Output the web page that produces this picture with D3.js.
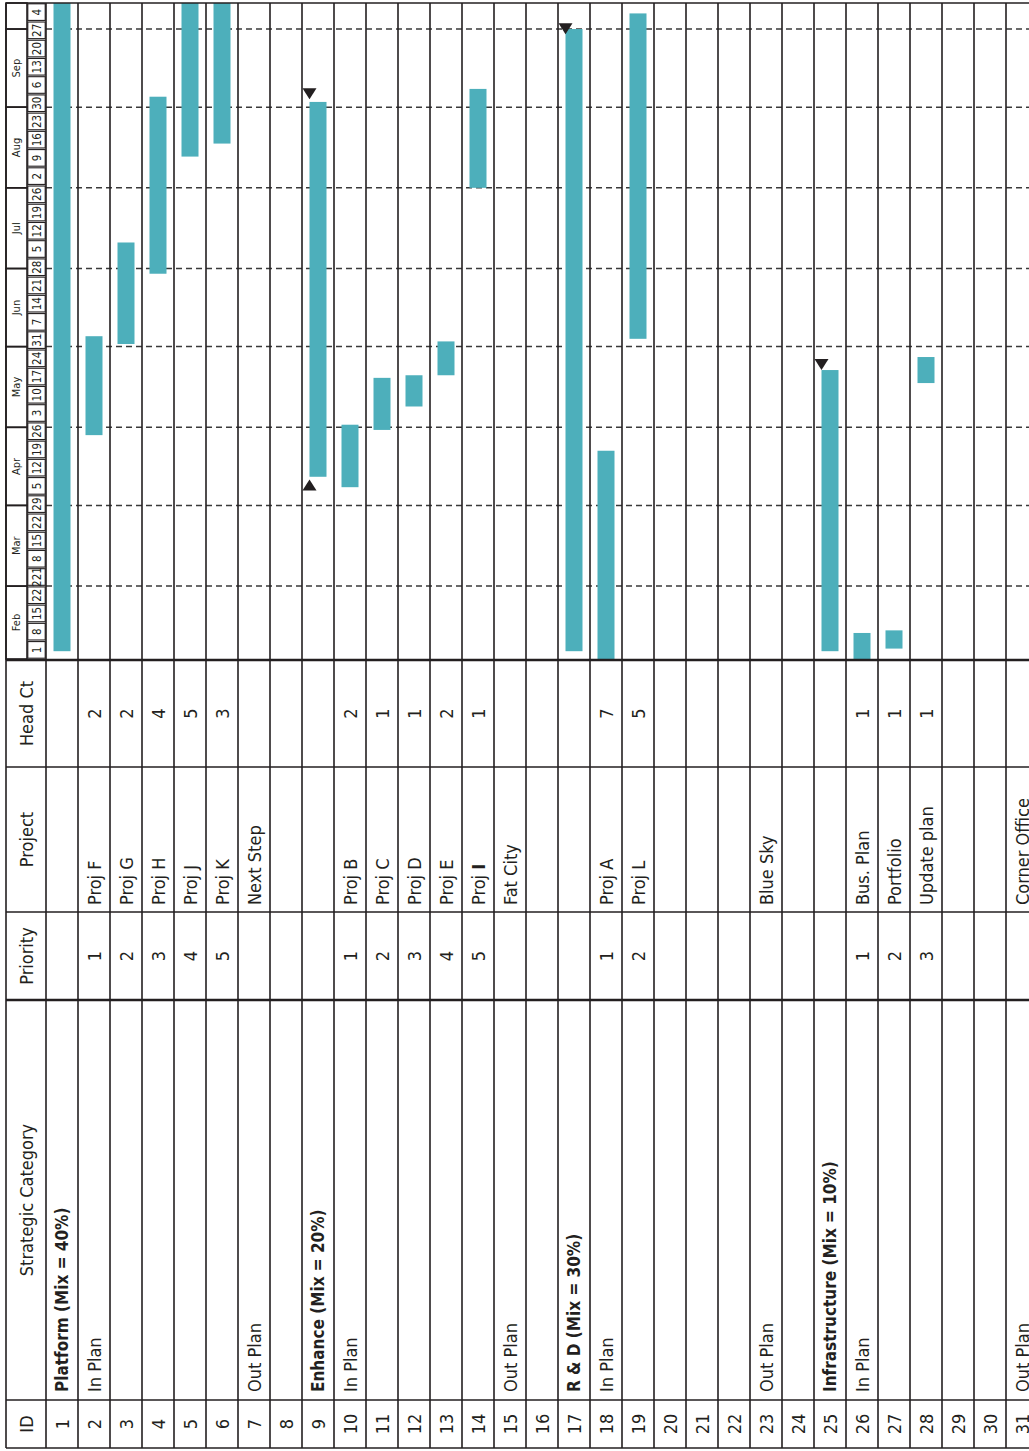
<!DOCTYPE html>
<html lang="en">
<head>
<meta charset="UTF-8">
<title>Strategic Project Plan</title>
<script src="https://cdn.jsdelivr.net/npm/d3@7"></script>
<style>
  body { margin: 0; background: #fff; }
  svg { display: block; }
  text {
    font-family: "Liberation Sans Narrow", "DejaVu Sans Condensed", "Arial Narrow", sans-serif;
    fill: #231f20;
  }
  .grid { stroke: #231f20; stroke-width: 1.6; }
  .thick { stroke-width: 2.6; }
  .month-line { stroke: #3a3a3a; stroke-width: 1.5; stroke-dasharray: 6 4; }
  .bar { fill: #4dafbb; }
  .milestone { fill: #231f20; }
</style>
</head>
<body>
<script>
// ---- values ----
const ids = [1, 2, 3, 4, 5, 6, 7, 8, 9, 10, 11, 12, 13, 14, 15, 16,
             17, 18, 19, 20, 21, 22, 23, 24, 25, 26, 27, 28, 29, 30, 31];
const headers = ["ID", "Strategic Category", "Priority", "Project", "Head Ct"];

const categoryRows = [1, 2, 7, 9, 10, 15, 17, 18, 23, 25, 26, 31];
const categoryNames = ["Platform (Mix = 40%)", "In Plan", "Out Plan",
                       "Enhance (Mix = 20%)", "In Plan", "Out Plan",
                       "R & D (Mix = 30%)", "In Plan", "Out Plan",
                       "Infrastructure (Mix = 10%)", "In Plan", "Out Plan"];
const groupRows = [1, 9, 17, 25];

const projectRows = [2, 3, 4, 5, 6, 7, 10, 11, 12, 13, 14, 15, 18, 19, 23, 26, 27, 28, 31];
const projectNames = ["Proj F", "Proj G", "Proj H", "Proj J", "Proj K", "Next Step",
                      "Proj B", "Proj C", "Proj D", "Proj E", "Proj I", "Fat City",
                      "Proj A", "Proj L", "Blue Sky", "Bus. Plan", "Portfolio",
                      "Update plan", "Corner Office"];

const rankedRows = [2, 3, 4, 5, 6, 10, 11, 12, 13, 14, 18, 19, 26, 27, 28];
const priorities = [1, 2, 3, 4, 5, 1, 2, 3, 4, 5, 1, 2, 1, 2, 3];
const headCounts = [2, 2, 4, 5, 3, 2, 1, 1, 2, 1, 7, 5, 1, 1, 1];

const barRows = [1, 2, 3, 4, 5, 6, 9, 10, 11, 12, 13, 14, 17, 18, 19, 25, 26, 27, 28];
const barStarts = ["2003-02-04", "2003-04-28", "2003-06-02", "2003-06-29", "2003-08-13",
                   "2003-08-18", "2003-04-12", "2003-04-08", "2003-04-30", "2003-05-09",
                   "2003-05-21", "2003-08-01", "2003-02-04", "2003-01-30", "2003-06-04",
                   "2003-02-04", "2003-01-30", "2003-02-05", "2003-05-18"];
const barEnds = ["2003-10-20", "2003-06-05", "2003-07-11", "2003-09-05", "2003-10-20",
                 "2003-10-20", "2003-09-03", "2003-05-02", "2003-05-20", "2003-05-21",
                 "2003-06-03", "2003-09-08", "2003-10-01", "2003-04-22", "2003-10-07",
                 "2003-05-23", "2003-02-11", "2003-02-12", "2003-05-28"];

const milestoneRows = [9, 9, 17, 25];
const milestoneDates = ["2003-09-04", "2003-04-11", "2003-09-29", "2003-05-23"];
const milestoneSides = ["after", "before", "after", "after"];

const months = ["Feb", "Mar", "Apr", "May", "Jun", "Jul", "Aug", "Sep", ""];
const weekLabels = ["1", "8", "15", "22", "221", "8", "15", "22", "29", "5", "12", "19",
                    "26", "3", "10", "17", "24", "31", "7", "14", "21", "28", "5", "12",
                    "19", "26", "2", "9", "16", "23", "30", "6", "13", "20", "27", "4"];

// ---- layout ----
const W = 1029, H = 1451;
const svg = d3.select("body").append("svg").attr("width", W).attr("height", H);

// the table is drawn lying flat, then turned a quarter turn so time runs up the page
const g = svg.append("g").attr("transform", `translate(0,${H}) rotate(-90)`);

const colEdges = [3, 51, 451, 539, 684, 791, 1448];
const headTop = 6, headBottom = 46, monthBottom = 27;
const tlStart = colEdges[5], tlEnd = colEdges[6];

const y = d3.scaleBand().domain(ids).range([headBottom, headBottom + 32 * ids.length]);
const x = d3.scaleUtc()
  .domain([new Date("2003-02-01"), new Date("2003-10-11")])
  .range([792, 1448]);
const clampX = v => Math.max(tlStart, Math.min(tlEnd, v));
const mid = r => y(r) + y.bandwidth() / 2;
const bottom = y.range()[1];

g.append("clipPath").attr("id", "tl")
  .append("rect")
  .attr("x", tlStart).attr("y", headBottom)
  .attr("width", tlEnd - tlStart).attr("height", bottom - headBottom);

// month boxes
const monthStarts = d3.utcMonth.range(new Date("2003-02-01"), new Date("2003-11-01"));
const monthCells = g.append("g").selectAll("g")
  .data(monthStarts)
  .join("g");
monthCells.append("rect")
  .attr("x", d => clampX(x(d)))
  .attr("y", headTop)
  .attr("width", d => clampX(x(d3.utcMonth.offset(d, 1))) - clampX(x(d)))
  .attr("height", monthBottom - headTop)
  .attr("fill", "none").attr("class", "grid").attr("stroke-width", 2.2);
monthCells.append("text")
  .attr("x", d => (clampX(x(d)) + clampX(x(d3.utcMonth.offset(d, 1)))) / 2)
  .attr("y", (headTop + monthBottom) / 2)
  .attr("text-anchor", "middle").attr("dominant-baseline", "central")
  .attr("font-size", 11)
  .text((d, i) => months[i]);

// week boxes
const weekStarts = d3.utcSaturday.range(new Date("2003-02-01"), new Date("2003-10-11"));
const weekCells = g.append("g").selectAll("g")
  .data(weekStarts)
  .join("g");
weekCells.append("rect")
  .attr("x", d => clampX(x(d)) + 0.8)
  .attr("y", monthBottom + 0.8)
  .attr("width", d => clampX(x(d3.utcDay.offset(d, 7))) - clampX(x(d)) - 1.6)
  .attr("height", headBottom - monthBottom - 1.6)
  .attr("fill", "none").attr("stroke", "#231f20").attr("stroke-width", 1.1);
weekCells.append("text")
  .attr("x", d => (clampX(x(d)) + clampX(x(d3.utcDay.offset(d, 7)))) / 2)
  .attr("y", (monthBottom + headBottom) / 2 + 0.5)
  .attr("text-anchor", "middle").attr("dominant-baseline", "central")
  .attr("font-size", 11.5)
  .text((d, i) => weekLabels[i]);

// dashed month lines over the body
g.append("g").selectAll("line")
  .data(monthStarts.slice(1))
  .join("line")
  .attr("class", "month-line")
  .attr("x1", d => x(d)).attr("x2", d => x(d))
  .attr("y1", headBottom).attr("y2", bottom);

// bars
const bars = barRows.map((r, i) => ({ row: r, start: new Date(barStarts[i]), end: new Date(barEnds[i]) }));
g.append("g").attr("clip-path", "url(#tl)")
  .selectAll("rect")
  .data(bars)
  .join("rect")
  .attr("class", "bar")
  .attr("x", d => x(d.start))
  .attr("width", d => x(d.end) - x(d.start))
  .attr("y", d => mid(d.row) - 8.5)
  .attr("height", 17);

// milestone triangles
const milestones = milestoneRows.map((r, i) => ({ row: r, date: new Date(milestoneDates[i]), side: milestoneSides[i] }));
g.append("g").selectAll("path")
  .data(milestones)
  .join("path")
  .attr("class", "milestone")
  .attr("d", d => {
    const tip = x(d.date), v = mid(d.row) - 8.5;
    const base = d.side === "after" ? tip + 11 : tip - 11;
    return `M${tip},${v}L${base},${v - 7}L${base},${v + 7}Z`;
  });

// grid
const rowEdges = [headTop].concat(ids.map(r => y(r)), [bottom]);
g.append("g").selectAll("line")
  .data(rowEdges)
  .join("line")
  .attr("class", "grid")
  .attr("x1", colEdges[0]).attr("x2", colEdges[6])
  .attr("y1", d => d).attr("y2", d => d);
g.append("g").selectAll("line")
  .data(colEdges)
  .join("line")
  .attr("class", (d, i) => i === 2 || i === 5 ? "grid thick" : "grid")
  .attr("x1", d => d).attr("x2", d => d)
  .attr("y1", headTop).attr("y2", bottom);

// header labels
g.append("g").selectAll("text")
  .data(headers)
  .join("text")
  .attr("x", (d, i) => (colEdges[i] + colEdges[i + 1]) / 2)
  .attr("y", (headTop + headBottom) / 2)
  .attr("text-anchor", "middle").attr("dominant-baseline", "central")
  .attr("font-size", 18)
  .text(d => d);

// ID column
g.append("g").selectAll("text")
  .data(ids)
  .join("text")
  .attr("x", (colEdges[0] + colEdges[1]) / 2)
  .attr("y", d => mid(d))
  .attr("text-anchor", "middle").attr("dominant-baseline", "central")
  .attr("font-size", 18)
  .text(d => d);

// strategic category
g.append("g").selectAll("text")
  .data(categoryRows)
  .join("text")
  .attr("x", colEdges[1] + 8)
  .attr("y", d => mid(d))
  .attr("dominant-baseline", "central")
  .attr("font-size", d => groupRows.includes(d) ? 17 : 18)
  .attr("font-weight", d => groupRows.includes(d) ? "bold" : "normal")
  .text((d, i) => categoryNames[i]);

// priority and head count
g.append("g").selectAll("text")
  .data(rankedRows)
  .join("text")
  .attr("x", (colEdges[2] + colEdges[3]) / 2)
  .attr("y", d => mid(d))
  .attr("text-anchor", "middle").attr("dominant-baseline", "central")
  .attr("font-size", 18)
  .text((d, i) => priorities[i]);
g.append("g").selectAll("text")
  .data(rankedRows)
  .join("text")
  .attr("x", (colEdges[4] + colEdges[5]) / 2)
  .attr("y", d => mid(d))
  .attr("text-anchor", "middle").attr("dominant-baseline", "central")
  .attr("font-size", 18)
  .text((d, i) => headCounts[i]);

// project names ("Proj I" has a heavy I in the original)
const proj = g.append("g").selectAll("text")
  .data(projectRows)
  .join("text")
  .attr("x", colEdges[3] + 7)
  .attr("y", d => mid(d))
  .attr("dominant-baseline", "central")
  .attr("font-size", 18);
proj.each(function(d, i) {
  const name = projectNames[i];
  const t = d3.select(this);
  if (name === "Proj I") {
    t.append("tspan").text("Proj ");
    t.append("tspan").attr("font-weight", "bold").text("I");
  } else {
    t.text(name);
  }
});
</script>
</body>
</html>
